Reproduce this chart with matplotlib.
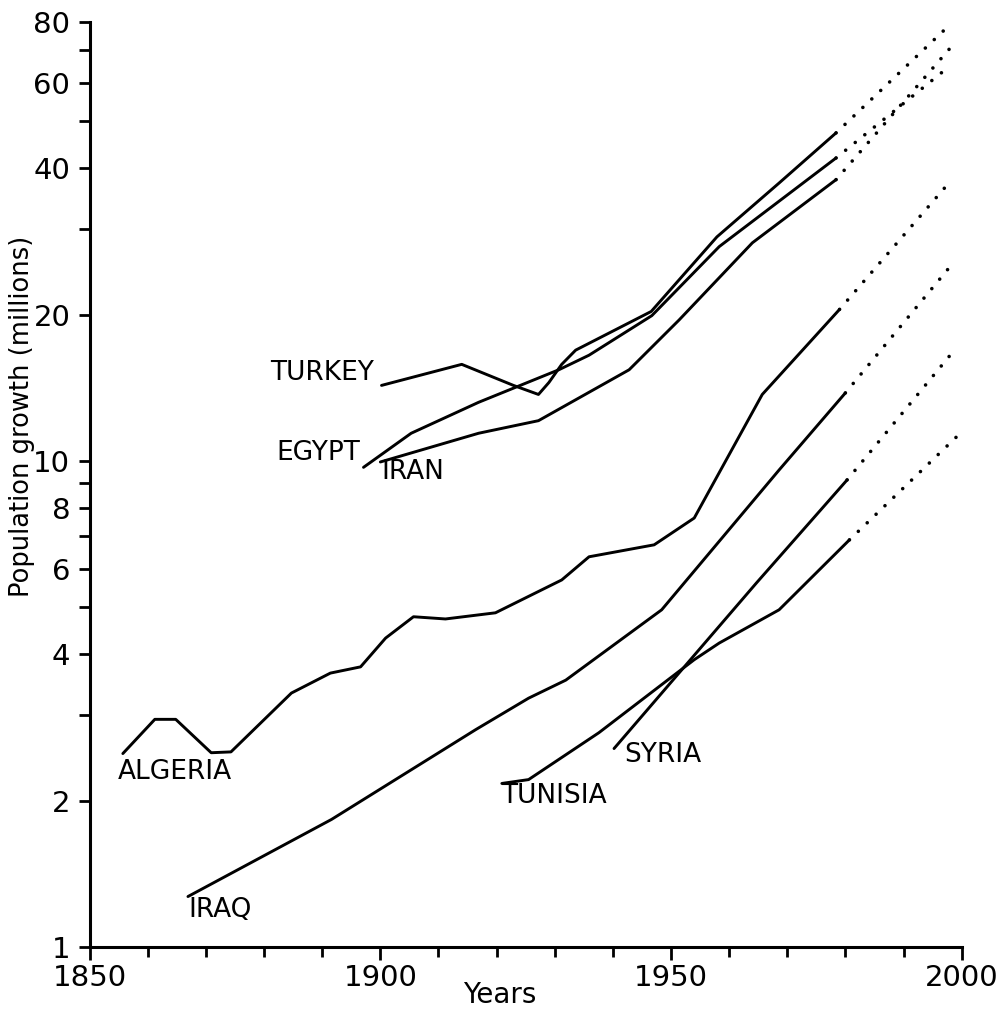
import numpy as np
import matplotlib
matplotlib.use("Agg")
import matplotlib.pyplot as plt
from matplotlib.ticker import FixedLocator, NullFormatter, FixedFormatter

turkey_years = [1900.2, 1914.0, 1922.9, 1927.2, 1929.0, 1931.2, 1933.6, 1946.6, 1957.9, 1968.6, 1978.4]
turkey_pop = [14.3, 15.8, 14.3, 13.7, 14.5, 15.8, 16.9, 20.3, 28.9, 37.3, 47.3]

egypt_years = [1897.1, 1905.3, 1916.9, 1930.7, 1935.9, 1946.7, 1958.3, 1978.4]
egypt_pop = [9.7, 11.4, 13.2, 15.4, 16.5, 19.9, 27.6, 42.0]

iran_years = [1900.0, 1916.9, 1927.2, 1942.8, 1951.4, 1964.0, 1978.4]
iran_pop = [9.95, 11.4, 12.1, 15.4, 19.5, 28.1, 37.9]

algeria_years = [1855.7, 1861.2, 1864.8, 1870.9, 1874.3, 1884.7, 1891.4, 1896.6, 1900.9,
                 1905.7, 1911.2, 1919.8, 1931.2, 1935.9, 1947.1, 1954.0, 1965.7, 1979.0]
algeria_pop = [2.50, 2.94, 2.94, 2.51, 2.52, 3.33, 3.66, 3.77, 4.32,
               4.78, 4.73, 4.87, 5.69, 6.35, 6.72, 7.63, 13.7, 20.5]

iraq_years = [1866.9, 1891.6, 1916.4, 1925.5, 1931.9, 1948.4, 1968.6, 1980.0]
iraq_pop = [1.27, 1.83, 2.80, 3.25, 3.54, 4.94, 9.58, 13.8]

syria_years = [1940.2, 1964.7, 1980.3]
syria_pop = [2.56, 5.61, 9.14]

tunisia_years = [1920.9, 1925.5, 1937.6, 1954.0, 1958.3, 1968.6, 1980.7]
tunisia_pop = [2.17, 2.21, 2.76, 3.90, 4.22, 4.94, 6.88]

# end points of the dotted projections
proj_end_years = {"TURKEY": 1998.0, "EGYPT": 1997.6, "IRAN": 1997.9, "ALGERIA": 1998.3,
                  "IRAQ": 1998.6, "SYRIA": 1999.1, "TUNISIA": 1999.1}
proj_end_pop = {"TURKEY": 79.0, "EGYPT": 64.4, "IRAN": 70.4, "ALGERIA": 37.9,
                "IRAQ": 25.6, "SYRIA": 17.1, "TUNISIA": 11.2}

series = {
    "TURKEY": (turkey_years, turkey_pop),
    "EGYPT": (egypt_years, egypt_pop),
    "IRAN": (iran_years, iran_pop),
    "ALGERIA": (algeria_years, algeria_pop),
    "IRAQ": (iraq_years, iraq_pop),
    "SYRIA": (syria_years, syria_pop),
    "TUNISIA": (tunisia_years, tunisia_pop),
}

# label anchor (left edge, vertical centre) in data coords
label_pos = {
    "TURKEY": (1881.0, 15.2),
    "EGYPT": (1882.1, 10.4),
    "IRAN": (1900.2, 9.5),
    "ALGERIA": (1854.8, 2.29),
    "IRAQ": (1866.9, 1.19),
    "TUNISIA": (1920.7, 2.04),
    "SYRIA": (1941.9, 2.48),
}

fig = plt.figure(figsize=(10.08, 10.11), dpi=100)
ax = fig.add_axes([0.089, 0.0633, 0.865, 0.915])
ax.set_yscale("log")

for name, (yrs, pop) in series.items():
    ax.plot(yrs, pop, color="black", lw=2.1, solid_capstyle="round", solid_joinstyle="round")
    ax.plot([yrs[-1], proj_end_years[name]], [pop[-1], proj_end_pop[name]],
            color="black", lw=2.6, linestyle=(0, (0.01, 3.4)), dash_capstyle="round")
    lx, ly = label_pos[name]
    ax.text(lx, ly, name, fontsize=19, ha="left", va="center", color="black")

ax.set_xlim(1850, 2000)
ax.set_ylim(1, 80)

ax.spines[["top", "right"]].set_visible(False)
for s in ["left", "bottom"]:
    ax.spines[s].set_linewidth(2.2)

yticks = [1, 2, 4, 6, 8, 10, 20, 40, 60, 80]
yminor = [3, 5, 7, 9, 30, 50, 70]
ax.yaxis.set_major_locator(FixedLocator(yticks))
ax.yaxis.set_major_formatter(FixedFormatter([str(v) for v in yticks]))
ax.yaxis.set_minor_locator(FixedLocator(yminor))
ax.yaxis.set_minor_formatter(NullFormatter())

ax.xaxis.set_major_locator(FixedLocator([1850, 1900, 1950, 2000]))
ax.xaxis.set_minor_locator(FixedLocator(np.arange(1860, 2000, 10)))

ax.tick_params(axis="both", which="both", direction="out", width=2.0, colors="black")
ax.tick_params(axis="y", which="both", length=8, labelsize=21, pad=6)
ax.tick_params(axis="x", which="major", length=9, labelsize=21, pad=3)
ax.tick_params(axis="x", which="minor", length=7)

fig.text(0.022, 1 - 416 / 1011, "Population growth (millions)", rotation=90,
         ha="center", va="center", fontsize=18.5)
fig.text(500 / 1008, 1 - 995 / 1011, "Years", ha="center", va="center", fontsize=20)

fig.savefig("out.png", dpi=100, facecolor="white")
